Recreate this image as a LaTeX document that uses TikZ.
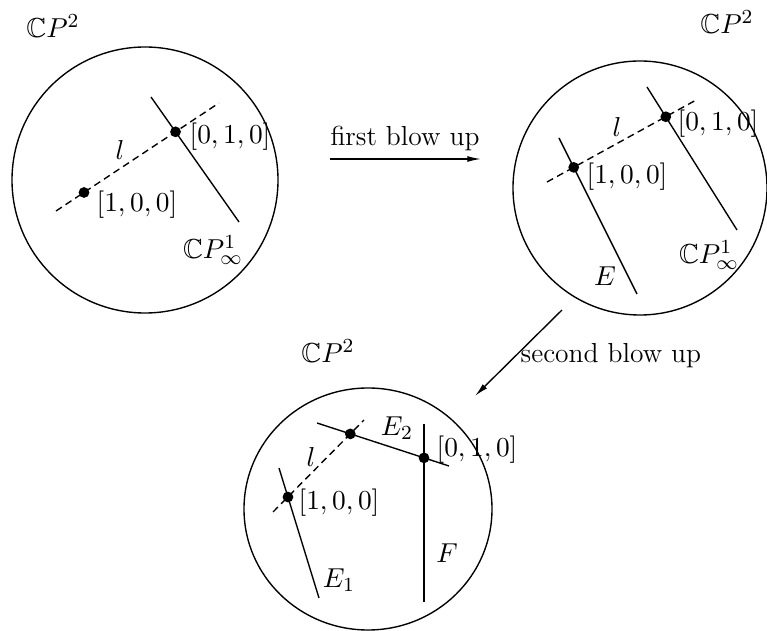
\documentclass[tikz,border=0pt]{standalone}
\usepackage{amssymb}
\usetikzlibrary{arrows.meta}
\begin{document}
\begin{tikzpicture}[x=0.4pt,y=-0.4pt, line width=0.55pt,
  every node/.style={font=\fontsize{11}{13.2}\selectfont, inner sep=0pt},
  dot/.style={circle, fill, inner sep=0pt, minimum size=4.3pt},
  dashline/.style={dash pattern=on 2.8pt off 1.8pt},
  arr/.style={-{Latex[length=5.5pt,width=2.4pt]}},
  lbl/.style={anchor=west}]

\useasboundingbox (0,0) rectangle (767,631);

% ---------- panel 1 ----------
\draw (145,180) circle[radius=53.2pt];
\coordinate (d1a) at (56,211);  \coordinate (d1b) at (219,103);
\coordinate (s1a) at (151,97);  \coordinate (s1b) at (239,222);
\draw[dashline] (d1a) -- (d1b);
\draw (s1a) -- (s1b);
\node[dot] (p1) at (84,192.5) {};
\node[dot] (q1) at (intersection of d1a--d1b and s1a--s1b) {};
\node (cp1) at (53,26) {$\mathbb{C}P^2$};
\node (l1) at (120,150) {$l$};
\node[lbl] (p1l) at (96,205) {$[1,0,0]$};
\node[lbl] (q1l) at (189,137) {$[0,1,0]$};
\node (inf1) at (213,250) {$\mathbb{C}P^1_\infty$};

% ---------- arrow 1 ----------
\coordinate (a1s) at (330,159); \coordinate (a1e) at (481,159);
\draw[arr] (a1s) -- (a1e);
\node (a1l) at (405,138) {first blow up};

% ---------- panel 2 ----------
\draw (640,188) circle[radius=50.8pt];
\coordinate (d2a) at (547,182); \coordinate (d2b) at (698,99);
\coordinate (e2a) at (559,138); \coordinate (e2b) at (637,294);
\coordinate (s2a) at (647,87);  \coordinate (s2b) at (737,230);
\draw[dashline] (d2a) -- (d2b);
\draw (e2a) -- (e2b);
\draw (s2a) -- (s2b);
\node[dot] (p2) at (intersection of d2a--d2b and e2a--e2b) {};
\node[dot] (q2) at (intersection of d2a--d2b and s2a--s2b) {};
\node (cp2) at (727,22) {$\mathbb{C}P^2$};
\node (l2) at (617,127) {$l$};
\node[lbl] (p2l) at (586,177) {$[1,0,0]$};
\node[lbl] (q2l) at (677,124) {$[0,1,0]$};
\node (inf2) at (709,255) {$\mathbb{C}P^1_\infty$};
\node (E) at (605,276) {$E$};

% ---------- arrow 2 ----------
\coordinate (a2s) at (562,310); \coordinate (a2e) at (475,396);
\draw[arr] (a2s) -- (a2e);
\node[lbl] (a2l) at (520,356) {second blow up};

% ---------- panel 3 ----------
\draw (368,509) ellipse[x radius=49.6pt, y radius=48.4pt];
\coordinate (d3a) at (273,512); \coordinate (d3b) at (364,420);
\coordinate (e1a) at (279,468); \coordinate (e1b) at (319,598);
\coordinate (e2c) at (317,423); \coordinate (e2d) at (449,466);
\coordinate (fa) at (424,424);  \coordinate (fb) at (424,602);
\draw[dashline] (d3a) -- (d3b);
\draw (e1a) -- (e1b);
\draw (e2c) -- (e2d);
\draw (fa) -- (fb);
\node[dot] (p3) at (intersection of d3a--d3b and e1a--e1b) {};
\node[dot] (r3) at (intersection of d3a--d3b and e2c--e2d) {};
\node[dot] (q3) at (intersection of fa--fb and e2c--e2d) {};
\node (cp3) at (328,351) {$\mathbb{C}P^2$};
\node (l3) at (311,457) {$l$};
\node (E2) at (397,428) {$E_2$};
\node[lbl] (q3l) at (436,450) {$[0,1,0]$};
\node[lbl] (p3l) at (298,503) {$[1,0,0]$};
\node (F) at (447,553) {$F$};
\node (E1) at (339,580) {$E_1$};
\end{tikzpicture}
\end{document}
